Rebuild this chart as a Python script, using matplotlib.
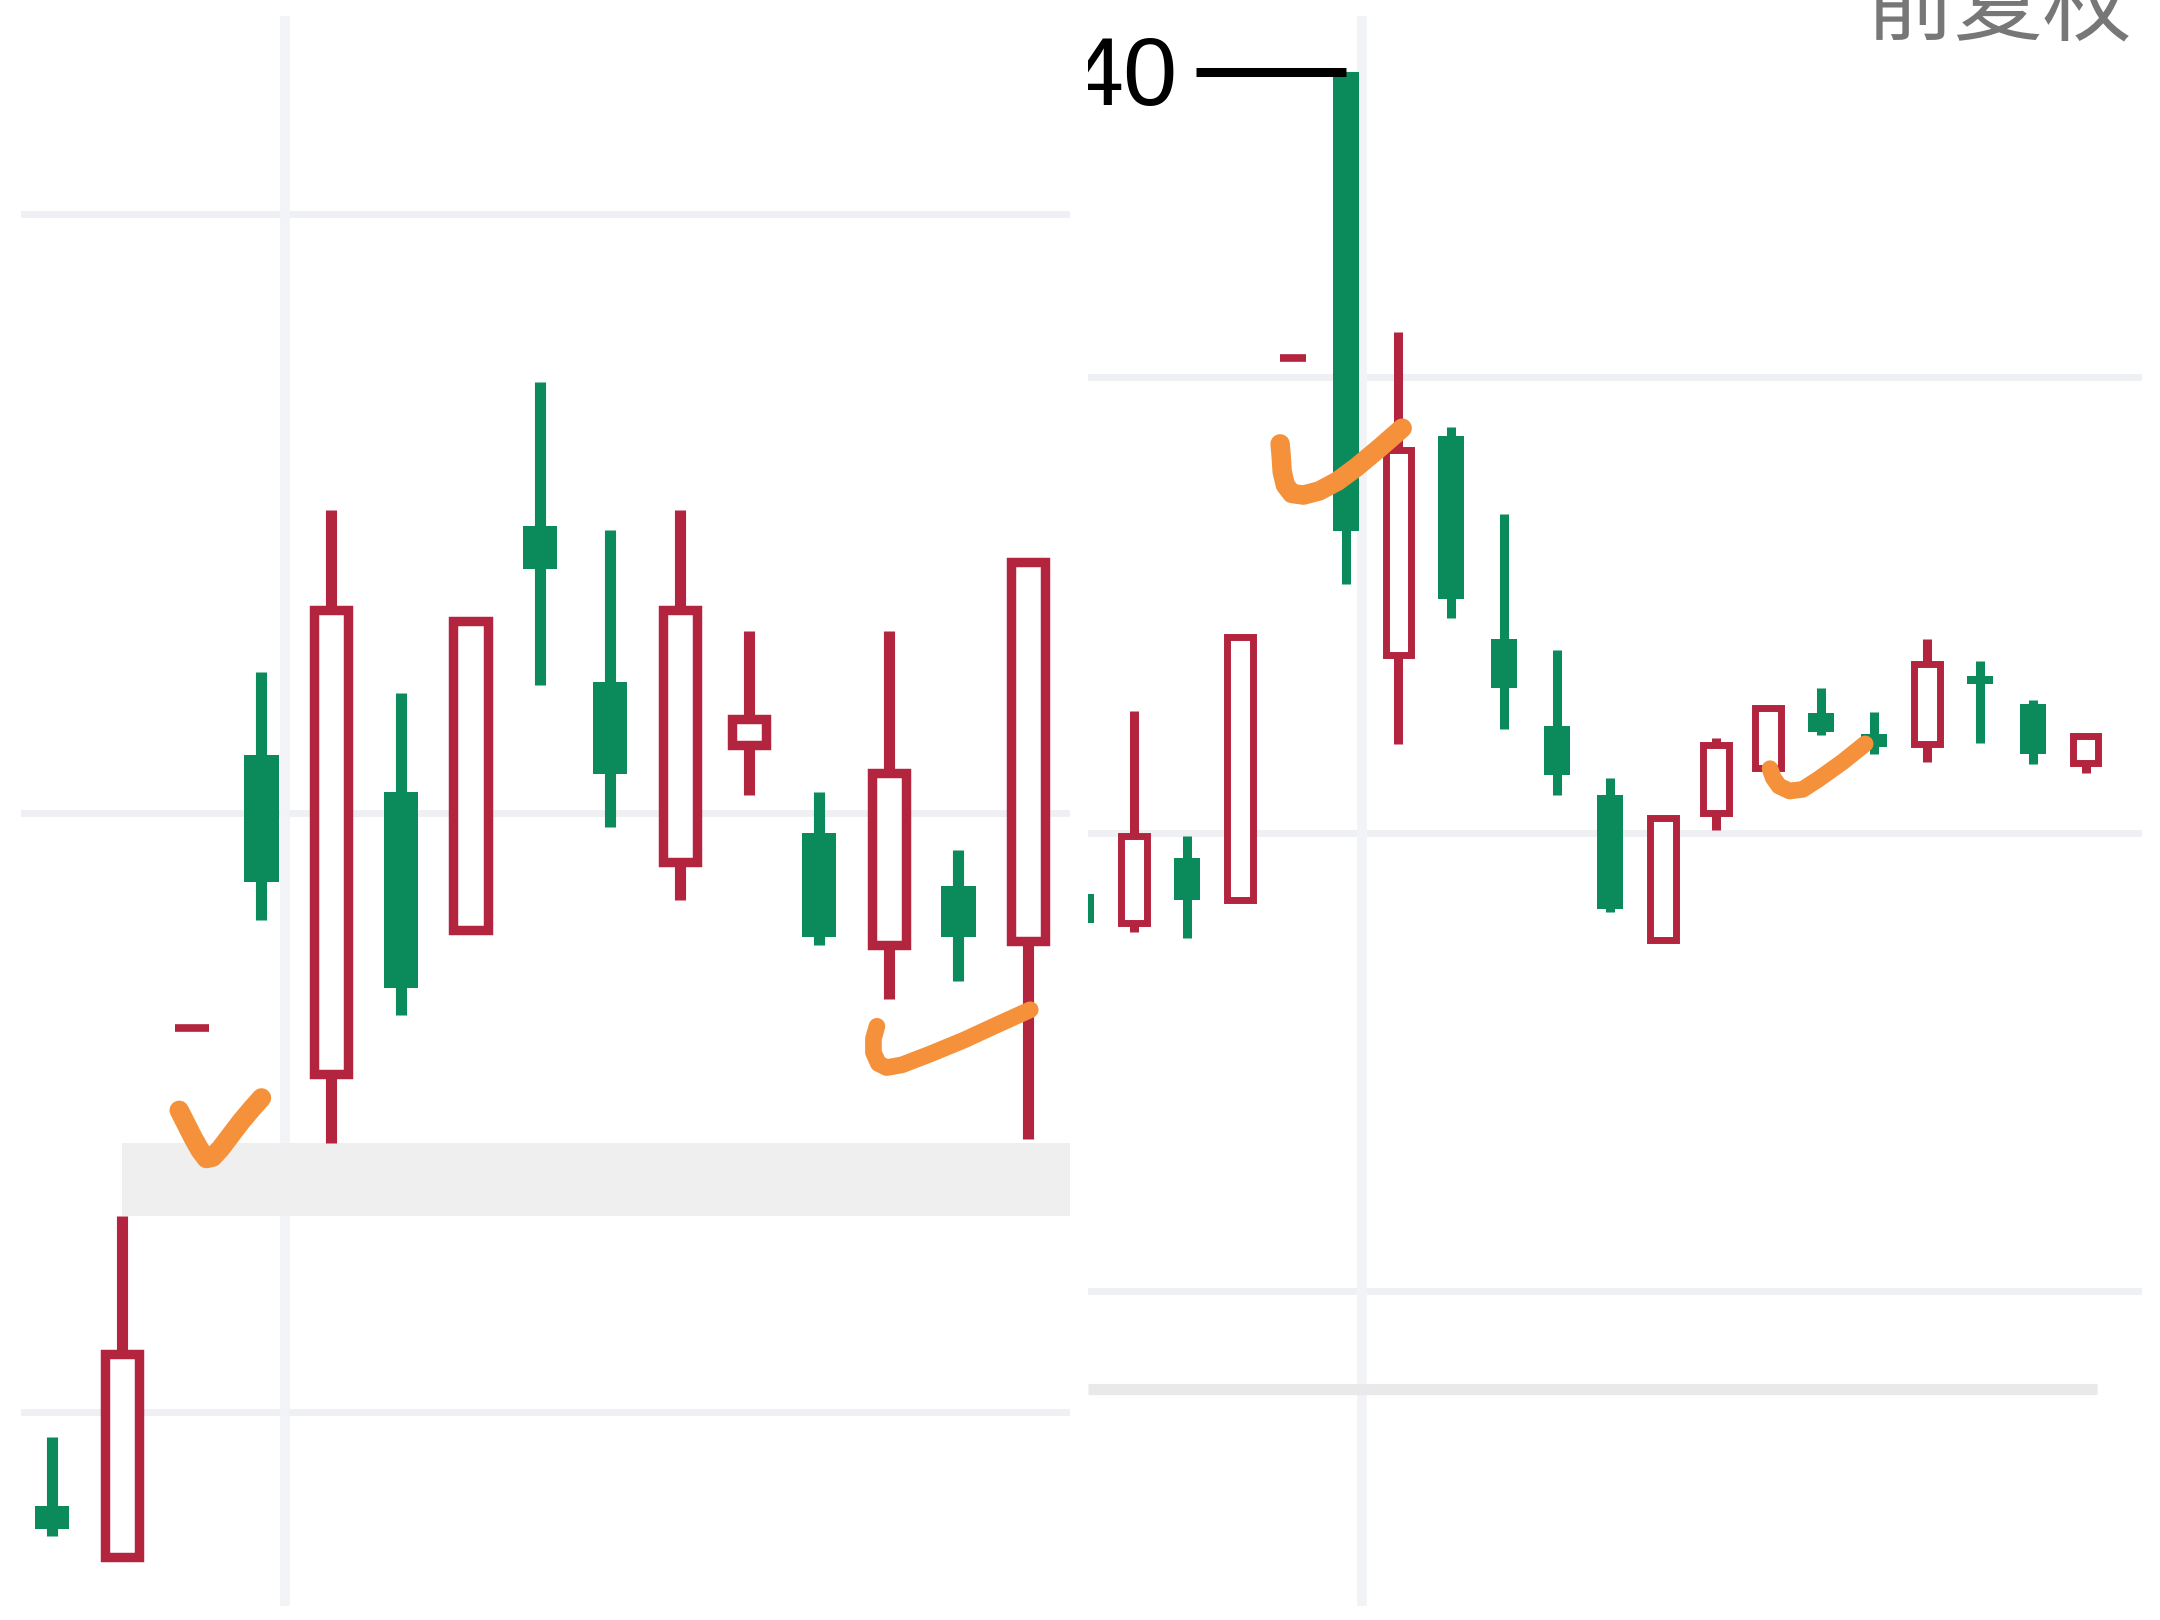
import matplotlib
matplotlib.use("Agg")
import matplotlib.pyplot as plt
from matplotlib.patches import Rectangle

RED = "#b3243f"
GREEN = "#0b8a5c"
ORANGE = "#f5913a"
GRID = "#eef0f4"

# --- left screenshot: daily candles (open/high/low/close) ---
left_open  = [20.83, 20.46, 24.30, 26.28, 23.96, 26.01, 25.01, 27.94, 26.81, 25.50, 26.35, 25.71, 24.90, 25.33, 24.93]
left_high  = [21.33, 22.93, 24.30, 26.88, 28.06, 26.73, 27.25, 28.99, 27.91, 28.06, 27.18, 26.01, 27.18, 25.59, 27.68]
left_low   = [20.61, 20.46, 24.30, 25.08, 23.46, 24.39, 25.01, 26.79, 25.76, 25.23, 25.99, 24.90, 24.51, 24.64, 23.49]
left_close = [20.66, 21.93, 24.30, 25.36, 27.33, 24.59, 27.25, 27.63, 26.14, 27.33, 26.54, 24.96, 26.15, 24.96, 27.68]
left_grid = [30.21, 25.86, 21.51]
left_vgrid = 3.34
left_gap = (22.93, 23.46)      # grey gap zone, starts at candle 1

# hand drawn ticks (candle index, price)
left_tick1_x = [1.82, 1.92, 2.02, 2.12, 2.21, 2.30, 2.41, 2.56, 2.71, 2.86, 3.00]
left_tick1_y = [23.70, 23.60, 23.50, 23.41, 23.35, 23.36, 23.42, 23.52, 23.62, 23.71, 23.79]
left_tick2_x = [11.83, 11.78, 11.78, 11.85, 11.97, 12.19, 12.60, 13.08, 13.55, 14.03]
left_tick2_y = [24.31, 24.22, 24.12, 24.04, 24.01, 24.03, 24.11, 24.21, 24.32, 24.43]

# --- right screenshot ---
right_open  = [30.05, 29.70, 30.49, 29.98, 36.54, 40.00, 32.95, 35.59, 33.14, 32.09, 31.25, 29.50, 31.03, 31.58, 32.24, 31.99, 31.87, 32.69, 32.35, 31.64]
right_high  = [30.20, 32.27, 30.75, 33.16, 36.54, 40.00, 36.85, 35.70, 34.65, 33.01, 31.46, 30.97, 31.94, 32.34, 32.55, 32.25, 33.14, 32.87, 32.40, 31.99]
right_low   = [29.67, 29.60, 29.52, 29.98, 36.54, 33.81, 31.87, 33.39, 32.05, 31.25, 29.84, 29.50, 30.83, 31.57, 31.98, 31.75, 31.65, 31.88, 31.63, 31.52]
right_close = [29.70, 30.75, 29.98, 33.16, 36.54, 34.44, 35.43, 33.62, 32.54, 31.49, 29.87, 30.97, 31.86, 32.30, 32.01, 31.83, 32.84, 32.60, 31.75, 31.96]
right_grid = [36.31, 30.79, 25.25]
right_vgrid = 5.31
right_base = 24.07             # grey price line near bottom
max_label = "40"
max_price = 40.00

right_tick1_x = [3.76, 3.78, 3.80, 3.86, 3.98, 4.20, 4.50, 4.85, 5.21, 5.64, 6.07]
right_tick1_y = [35.50, 35.35, 35.16, 35.00, 34.90, 34.88, 34.93, 35.05, 35.22, 35.45, 35.69]
right_tick2_x = [13.03, 13.09, 13.20, 13.40, 13.65, 13.94, 14.40, 14.83]
right_tick2_y = [31.57, 31.46, 31.36, 31.30, 31.32, 31.44, 31.65, 31.87]


def draw_candles(ax, o, h, l, c, width, wick_lw, edge_lw):
    for i in range(len(o)):
        if h[i] == l[i]:
            # one-price limit-up day
            ax.hlines(h[i], i - width / 2, i + width / 2, color=RED, lw=5.5, zorder=3)
            continue
        up = c[i] >= o[i]
        col = RED if up else GREEN
        ax.vlines(i, l[i], h[i], color=col, lw=wick_lw, zorder=2)
        bottom = min(o[i], c[i])
        height = abs(c[i] - o[i])
        if up:
            rect = Rectangle((i - width / 2, bottom), width, height,
                             facecolor="white", edgecolor=col, lw=edge_lw, zorder=3)
        else:
            rect = Rectangle((i - width / 2, bottom), width, height,
                             facecolor=col, edgecolor="none", zorder=3)
        ax.add_patch(rect)


def draw_tick(ax, xs, ys, lw):
    ax.plot(xs, ys, color=ORANGE, lw=lw, solid_capstyle="round",
            solid_joinstyle="round", zorder=5)


fig = plt.figure(figsize=(21.6, 16.2), dpi=100)
fig.patch.set_facecolor("white")

# left panel
ax1 = fig.add_axes([15 / 1568, 0, 762 / 1568, 1])
ax1.set_xlim(-0.4545, 14.605)
ax1.set_ylim(20.0, 31.76)
for g in left_grid:
    ax1.axhline(g, color=GRID, lw=5, zorder=0)
ax1.axvline(left_vgrid, ymin=0.012, ymax=0.987, color="#f1f3f7", lw=7, zorder=0)
ax1.fill_between([1.0, 14.605], left_gap[0], left_gap[1], color="#efefef", lw=0, zorder=1)
draw_candles(ax1, left_open, left_high, left_low, left_close, 0.49, 8, 6.8)
draw_tick(ax1, left_tick1_x, left_tick1_y, 14)
draw_tick(ax1, left_tick2_x, left_tick2_y, 12)
ax1.axis("off")

# right panel
ax2 = fig.add_axes([790 / 1568, 0, 765 / 1568, 1])
ax2.set_xlim(0.13, 20.07)
ax2.set_ylim(21.27, 40.87)
for g in right_grid:
    ax2.axhline(g, color=GRID, lw=5, zorder=0)
ax2.axvline(right_vgrid, ymin=0.012, ymax=0.987, color="#f1f3f7", lw=7, zorder=0)
ax2.hlines(right_base, 0.13, 19.21, color="#e9e9e9", lw=8, zorder=1)
draw_candles(ax2, right_open, right_high, right_low, right_close, 0.49, 6.5, 5)
draw_tick(ax2, right_tick1_x, right_tick1_y, 14)
draw_tick(ax2, right_tick2_x, right_tick2_y, 12)
ax2.hlines(max_price, 2.16, 5.0, color="black", lw=6.5, zorder=4)
ax2.text(1.82, 39.90, max_label, ha="right", va="center", fontsize=70,
         family="Liberation Sans", color="black", clip_on=True, zorder=4)
ax2.axis("off")

fig.text(1865 / 2160, 1 - 34 / 1620, "前复权", fontsize=64, color="#777777",
         family=["Noto Sans CJK SC", "DejaVu Sans"], ha="left", va="baseline")

fig.savefig("out.png", dpi=100)
